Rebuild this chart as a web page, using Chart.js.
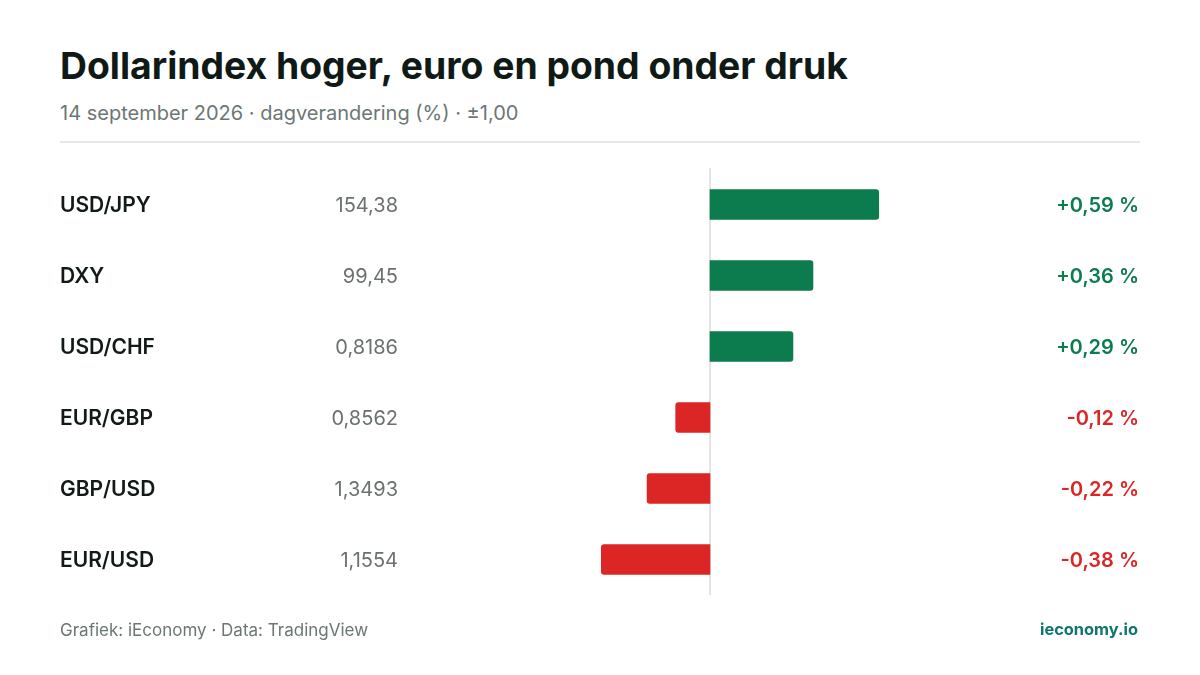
<!DOCTYPE html>
<html lang="nl">
<head>
<meta charset="utf-8">
<script src="https://cdn.jsdelivr.net/npm/chart.js@4/dist/chart.umd.min.js"></script>
<style>
  html, body { margin: 0; padding: 0; background: #fff; }
  body { width: 1200px; height: 675px; position: relative; overflow: hidden; font-family: Inter, "Noto Sans", sans-serif; }
  #chart { position: absolute; left: 0; top: 0; }
  .title { position: absolute; left: 60px; top: 44px; font-size: 37.3px; font-weight: 700; color: #0f1a17; margin: 0; line-height: 1.2; }
  .subtitle { position: absolute; left: 60px; top: 101px; font-size: 20px; color: #6b7774; margin: 0; line-height: 1.2; }
  .rule { position: absolute; left: 60px; top: 141px; width: 1080px; height: 2px; background: #e3e7e6; }
  .source { position: absolute; left: 60px; top: 620px; font-size: 17px; color: #6b7774; line-height: 1.2; }
  .brand { position: absolute; right: 62px; top: 620px; font-size: 16.4px; font-weight: 700; color: #0f766e; line-height: 1.2; }
</style>
</head>
<body>
<h1 class="title">Dollarindex hoger, euro en pond onder druk</h1>
<p class="subtitle">14 september 2026 · dagverandering (%) · ±1,00</p>
<div class="rule"></div>
<canvas id="chart" width="1200" height="675"></canvas>
<div class="source">Grafiek: iEconomy · Data: TradingView</div>
<div class="brand">ieconomy.io</div>
<script>
// ---- data ----
const pairs = ['USD/JPY', 'DXY', 'USD/CHF', 'EUR/GBP', 'GBP/USD', 'EUR/USD'];
const rates = ['154,38', '99,45', '0,8186', '0,8562', '1,3493', '1,1554'];
const changes = [0.59, 0.36, 0.29, -0.12, -0.22, -0.38];
const axisRange = 1.0;

const GREEN = '#0c7c4f';
const RED = '#dc2626';

function formatChange(v) {
  const sign = v >= 0 ? '+' : '-';
  return sign + Math.abs(v).toFixed(2).replace('.', ',') + ' %';
}

// zero line + row texts
const rowText = {
  id: 'rowText',
  beforeDatasetsDraw(chart) {
    const { ctx, chartArea, scales } = chart;
    const x0 = scales.x.getPixelForValue(0);
    ctx.save();
    ctx.strokeStyle = '#e2e5e4';
    ctx.lineWidth = 2;
    ctx.beginPath();
    ctx.moveTo(x0, chartArea.top - 1);
    ctx.lineTo(x0, chartArea.bottom);
    ctx.stroke();
    ctx.restore();
  },
  afterDatasetsDraw(chart) {
    const { ctx, scales } = chart;
    ctx.save();
    ctx.textBaseline = 'alphabetic';
    pairs.forEach((p, i) => {
      const y = scales.y.getPixelForValue(i) + 7;
      ctx.font = '600 21px Inter';
      ctx.fillStyle = '#111a18';
      ctx.textAlign = 'left';
      ctx.fillText(p, 60, y);

      ctx.font = '400 20px Inter';
      ctx.fillStyle = '#6b716f';
      ctx.textAlign = 'right';
      ctx.fillText(rates[i], 398, y);

      ctx.font = '600 20px Inter';
      ctx.fillStyle = changes[i] >= 0 ? GREEN : RED;
      ctx.fillText(formatChange(changes[i]), 1139, y);
    });
    ctx.restore();
  }
};

new Chart(document.getElementById('chart'), {
  type: 'bar',
  data: {
    labels: pairs,
    datasets: [{
      data: changes,
      backgroundColor: changes.map(v => v >= 0 ? GREEN : RED),
      barThickness: 30,
      borderRadius: 3,
      borderSkipped: 'start',
    }],
  },
  options: {
    indexAxis: 'y',
    responsive: false,
    animation: false,
    layout: { padding: { left: 424, right: 204, top: 169, bottom: 80 } },
    scales: {
      x: { min: -axisRange, max: axisRange, display: false },
      y: { display: false },
    },
    plugins: { legend: { display: false }, tooltip: { enabled: false } },
  },
  plugins: [rowText],
});
</script>
</body>
</html>
